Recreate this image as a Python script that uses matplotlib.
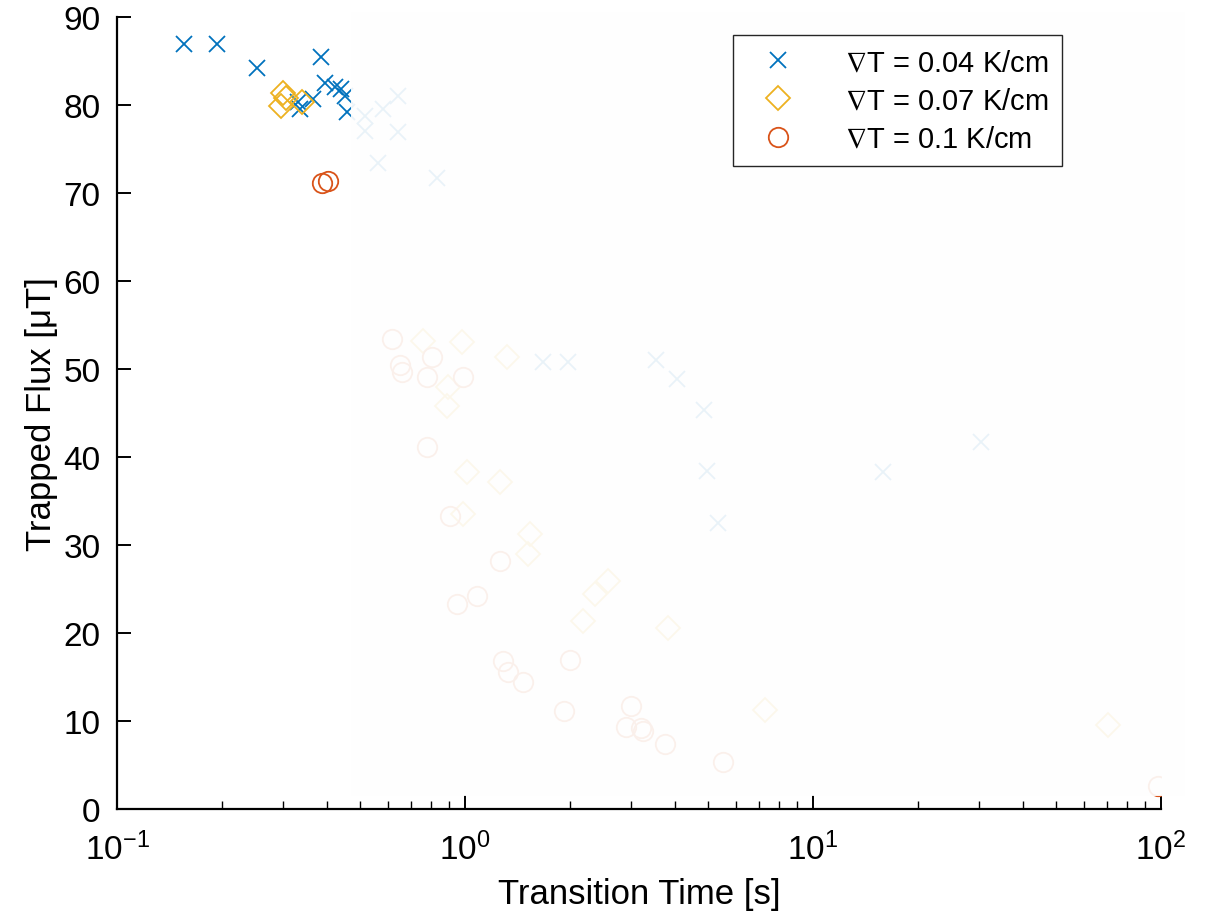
import matplotlib.pyplot as plt
from matplotlib.patches import Rectangle

plt.rcParams.update({
    "font.family": ["Liberation Sans", "DejaVu Sans"],
    "mathtext.default": "regular",
    "axes.unicode_minus": False,
    "axes.linewidth": 1.6,
})

# Transition time [s] and trapped flux [uT] for each temperature gradient
t_004 = [0.156, 0.194, 0.253, 0.386, 0.396, 0.423, 0.440, 0.452, 0.458,
         0.331, 0.336, 0.366,
         0.516, 0.581, 0.642, 0.516, 0.642, 0.562, 0.831,
         1.675, 1.977, 3.54, 4.07, 4.86, 4.96, 5.33, 30.4, 15.9]
flux_004 = [86.9, 86.9, 84.2, 85.5, 82.5, 82.0, 81.8, 81.0, 79.2,
            80.3, 79.5, 80.7,
            78.8, 79.5, 81.0, 77.0, 76.9, 73.4, 71.7,
            50.8, 50.8, 51.0, 48.9, 45.3, 38.4, 32.5, 41.7, 38.3]

t_007 = [0.300, 0.306, 0.296, 0.340,
         0.758, 0.980, 1.32, 0.894, 0.888, 1.013, 1.26, 0.987, 1.537,
         1.517, 2.576, 2.363, 2.184, 3.83, 7.28, 70.4]
flux_007 = [81.4, 80.8, 79.9, 80.3,
            53.2, 53.1, 51.4, 48.0, 45.8, 38.3, 37.2, 33.5, 31.2,
            29.0, 25.9, 24.4, 21.4, 20.6, 11.2, 9.5]

t_010 = [0.388, 0.404,
         0.617, 0.804, 0.650, 0.659, 0.778, 0.987, 0.778, 0.906, 1.26,
         1.083, 0.948, 1.286, 1.329, 1.468, 2.003, 1.925, 3.0, 2.901,
         3.203, 3.246, 3.755, 5.51, 98.0]
flux_010 = [71.1, 71.4,
            53.4, 51.4, 50.5, 49.7, 49.1, 49.1, 41.1, 33.3, 28.2,
            24.2, 23.3, 16.8, 15.6, 14.4, 16.9, 11.1, 11.7, 9.3,
            9.2, 8.9, 7.4, 5.3, 2.6]

labels = [r"$\nabla$T = 0.04 K/cm", r"$\nabla$T = 0.07 K/cm", r"$\nabla$T = 0.1 K/cm"]

fig = plt.figure(figsize=(12.09, 9.12), dpi=100)
ax = fig.add_axes([0.0968, 0.1118, 0.8635, 0.8684])

ax.plot(t_004, flux_004, "x", color="#0072BD", ms=11, mew=1.3, label=labels[0])
ax.plot(t_007, flux_007, "D", color="#EDB120", ms=12, mew=1.3, mfc="none",
        label=labels[1])
ax.plot(t_010, flux_010, "o", color="#D95319", ms=14, mew=1.3, mfc="none",
        label=labels[2])

# washed-out panel laid over most of the data
ax.add_patch(Rectangle((0.224, 0.016), 0.799, 0.99, transform=ax.transAxes,
                       facecolor="#fefefe", edgecolor="none", alpha=0.92,
                       zorder=3, clip_on=False))

ax.set_xscale("log")
ax.set_xlim(0.1, 100)
ax.set_ylim(0, 90)
ax.set_yticks(range(0, 91, 10))
ax.spines["top"].set_visible(False)
ax.spines["right"].set_visible(False)
ax.tick_params(which="major", direction="in", length=10, width=1.4,
               labelsize=24, pad=12)
ax.tick_params(which="minor", direction="in", length=6, width=1.0)
ax.tick_params(axis="x", which="major", pad=16)

ax.set_xlabel("Transition Time [s]", fontsize=25, labelpad=8)
ax.set_ylabel("Trapped Flux [μT]", fontsize=25, labelpad=4)

leg = ax.legend(loc="upper right", bbox_to_anchor=(0.905, 0.977),
                borderaxespad=0, fontsize=21, fancybox=False,
                edgecolor="#262626", framealpha=1, handletextpad=1.2,
                borderpad=0.45, labelspacing=0.35, handlelength=2.2)
leg.get_frame().set_linewidth(1.0)
leg.set_zorder(5)

fig.savefig("out.png", dpi=100)
